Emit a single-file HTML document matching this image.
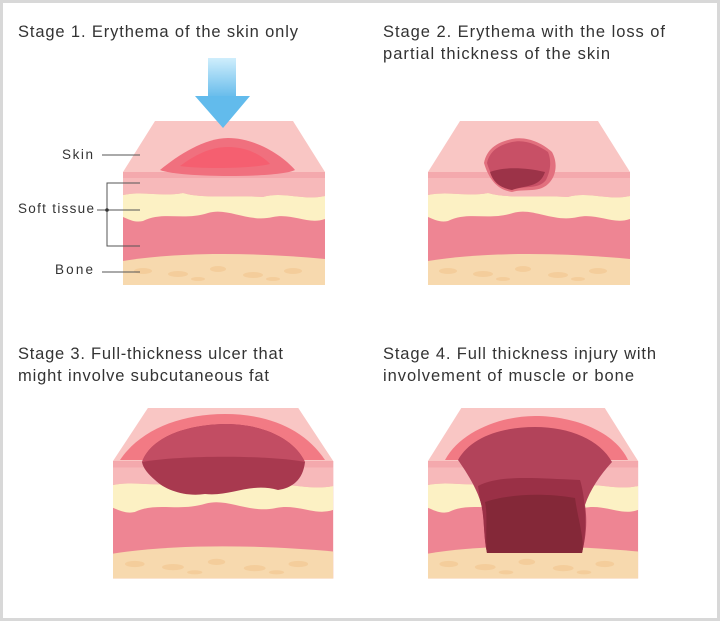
<!DOCTYPE html>
<html><head><style>
body{margin:0;width:720px;height:621px;overflow:hidden;background:#fff}
</style></head><body>
<svg width="720" height="621" viewBox="0 0 720 621" xmlns="http://www.w3.org/2000/svg" font-family="Liberation Sans, sans-serif">
<defs>
<linearGradient id="ar" x1="0" y1="0" x2="0" y2="1"><stop offset="0" stop-color="#cfeefc"/><stop offset="1" stop-color="#5fb8ea"/></linearGradient>
<g id="blk">
  <polygon points="32,0 170,0 202,51 0,51" fill="#f9c6c4"/>
  <rect x="0" y="51" width="202" height="113" fill="#ee8593"/>
  <rect x="0" y="51" width="202" height="6" fill="#f4a9ad"/>
  <path d="M0,57 H202 V75 C180,80 160,70 140,76 C110,74 80,78 60,72 C40,76 20,70 0,74 Z" fill="#f7b9ba"/>
  <path d="M0,74 C20,70 40,76 60,72 C80,78 110,74 140,76 C160,70 180,80 202,75 V98 C185,104 170,92 150,96 C125,102 105,86 85,92 C60,100 40,90 20,100 C12,102 5,98 0,96 Z" fill="#fcf1c4"/>
  <path d="M0,140 C60,130 140,132 202,138 V164 H0 Z" fill="#f7d9ae"/>
  <g fill="#f3c994" opacity="0.7">
   <ellipse cx="20" cy="150" rx="9" ry="3"/><ellipse cx="55" cy="153" rx="10" ry="3"/><ellipse cx="95" cy="148" rx="8" ry="3"/><ellipse cx="130" cy="154" rx="10" ry="3"/><ellipse cx="170" cy="150" rx="9" ry="3"/><ellipse cx="75" cy="158" rx="7" ry="2"/><ellipse cx="150" cy="158" rx="7" ry="2"/>
  </g>
</g>
</defs>
<rect x="0" y="0" width="720" height="621" fill="#fff" stroke="#d8d8d8" stroke-width="6"/>
<g font-size="16.5" fill="#333" lengthAdjust="spacing">
<text x="18" y="37" textLength="280">Stage 1. Erythema of the skin only</text>
<text x="383" y="37" textLength="282">Stage 2. Erythema with the loss of</text>
<text x="383" y="59" textLength="227">partial thickness of the skin</text>
<text x="18" y="359" textLength="265">Stage 3. Full-thickness ulcer that</text>
<text x="18" y="381" textLength="251">might involve subcutaneous fat</text>
<text x="383" y="359" textLength="273">Stage 4. Full thickness injury with</text>
<text x="383" y="381" textLength="251">involvement of muscle or bone</text>
</g>
<!-- stage 1 -->
<use href="#blk" transform="translate(123,121)"/>
<path d="M160,170 C178,155 205,138 228,138 C255,138 282,155 295,170 C280,178 180,178 160,170 Z" fill="#f0707e"/>
<path d="M180,166 C195,155 210,147 228,147 C250,147 265,158 270,164 C250,169 200,169 180,166 Z" fill="#f55f70"/>
<rect x="208" y="58" width="28" height="42" fill="url(#ar)"/>
<polygon points="195,96 250,96 223,128" fill="#62bbec"/>
<g font-size="13.5" fill="#333" lengthAdjust="spacing">
<text x="62" y="159" textLength="31">Skin</text>
<text x="18" y="213" textLength="76">Soft tissue</text>
<text x="55" y="274" textLength="38">Bone</text>
</g>
<g stroke="#555" stroke-width="1" fill="none">
<path d="M102,155 H140"/>
<path d="M140,183 H107 V246 H140"/>
<path d="M97,210 H140"/>
<path d="M102,272 H140"/>
</g>
<circle cx="107" cy="210" r="1.8" fill="#333"/>
<!-- stage 2 -->
<use href="#blk" transform="translate(428,121)"/>
<path d="M484,163 C487,148 498,142 512,139 C527,136 542,143 552,152 C558,163 556,175 550,182 C540,194 525,188 512,192 C498,190 489,180 484,163 Z" fill="#e2707e"/>
<path d="M487,163 C490,150 500,145 512,142 C525,139 538,145 548,152 C552,162 550,172 546,180 C538,190 525,185 512,190 C500,188 492,180 487,163 Z" fill="#c85066"/>
<path d="M490,172 C500,168 520,166 545,172 C540,188 525,185 512,190 C500,188 493,182 490,172 Z" fill="#9c3348"/>
<!-- stage 3 -->
<use href="#blk" transform="translate(113,408) scale(1.09,1.04)"/>
<path d="M120,460 C140,430 180,414 225,414 C270,414 305,430 325,460 Z" fill="#f27a84"/>
<path d="M142,462 C150,440 180,425 225,424 C265,424 295,440 305,462 C303,480 292,488 278,490 C250,482 230,497 205,494 C185,497 165,490 155,480 C148,474 143,468 142,462 Z" fill="#a8394f"/>
<path d="M142,462 C150,440 180,425 225,424 C265,424 295,440 305,462 C270,455 180,455 142,462 Z" fill="#c24d63"/>
<!-- stage 4 -->
<use href="#blk" transform="translate(428,408) scale(1.04,1.04)"/>
<path d="M445,460 C460,432 500,416 535,416 C575,416 615,432 628,460 Z" fill="#f27a84"/>
<path d="M458,460 C470,438 500,427 535,427 C570,427 600,440 612,462 C600,475 590,490 585,505 C588,525 585,540 582,553 H487 C483,535 485,515 480,500 C475,485 465,470 458,460 Z" fill="#b2435a"/>
<path d="M478,486 C500,475 530,478 580,480 C585,495 588,530 582,553 H487 C483,535 485,515 480,500 Z" fill="#9a3046"/>
<path d="M485,502 C505,495 540,492 575,498 C578,520 585,540 582,553 H487 C485,535 488,515 485,502 Z" fill="#842838"/>
</svg>
</body></html>
